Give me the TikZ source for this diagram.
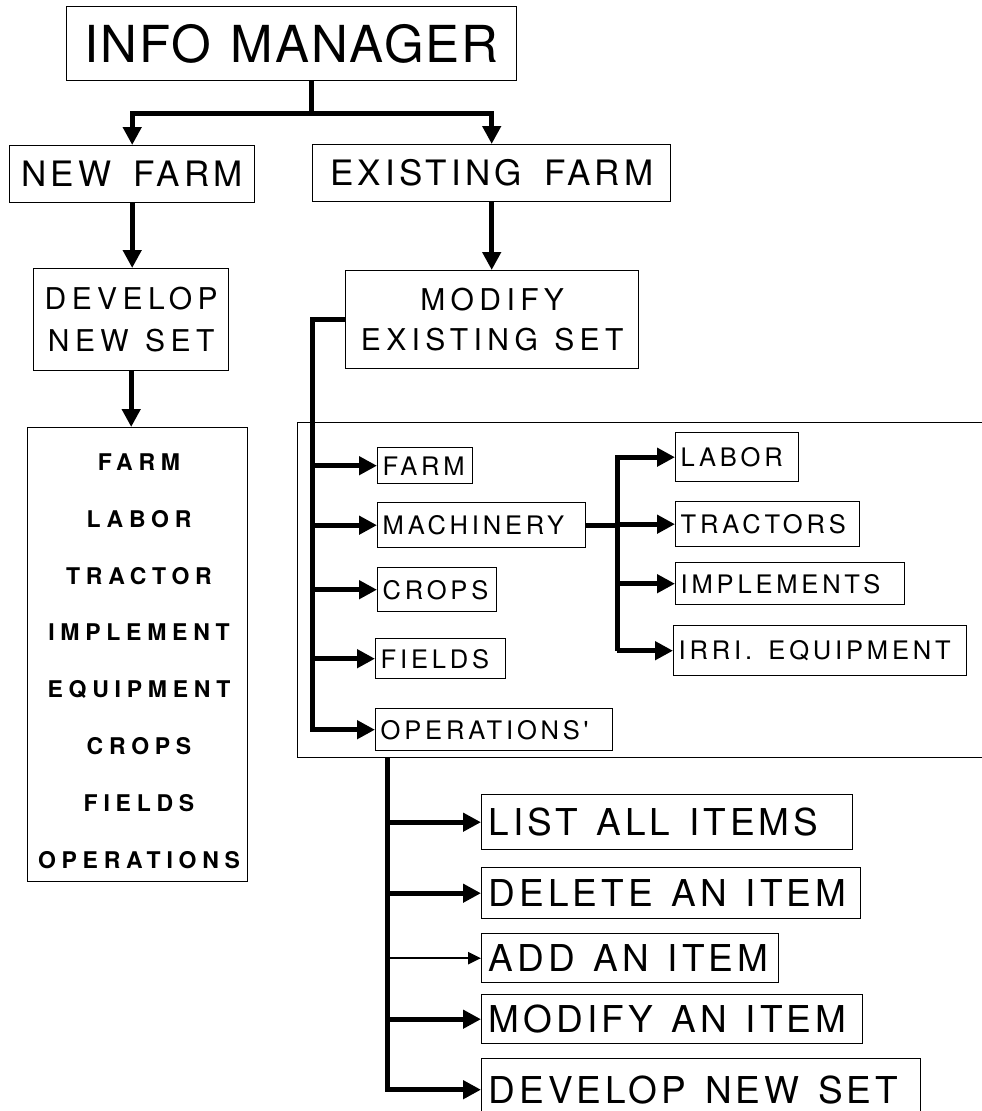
\documentclass[tikz,border=0pt]{standalone}
\usepackage{fontspec}
\setmainfont{TeX Gyre Heros}
\newfontfamily\infofont[LetterSpace=4,WordSpace=1.2]{TeX Gyre Heros}
\newfontfamily\farmfont[LetterSpace=12,WordSpace=1.6]{TeX Gyre Heros}
\newfontfamily\setsfont[LetterSpace=18,WordSpace=1.2]{TeX Gyre Heros}
\newfontfamily\menufont[LetterSpace=15,WordSpace=1.5]{TeX Gyre Heros}
\newfontfamily\itemfont[LetterSpace=25]{TeX Gyre Heros}
\newfontfamily\optfont[LetterSpace=11,WordSpace=1.3]{TeX Gyre Heros}
\usetikzlibrary{arrows.meta}

\begin{document}
\begin{tikzpicture}[x=1pt, y=-1pt,
  box/.style={draw, line width=1.4pt, anchor=north west, inner ysep=0pt},
  conn/.style={line width=5pt, -{Triangle[length=18pt,width=18pt]}},
  thinconn/.style={line width=2.5pt, -{Triangle[length=13pt,width=12pt]}},
  bar/.style={line width=5pt}]
  \useasboundingbox (0,0) rectangle (982,1111);
  % top levels
  \node[box, minimum width=450pt, minimum height=74pt, font=\infofont\fontsize{51}{60}\selectfont] (info) at (66,6) {INFO MANAGER};
  \node[box, minimum width=245pt, minimum height=57pt, font=\farmfont\fontsize{35}{42}\selectfont] (newfarm) at (9,145) {NEW FARM};
  \node[box, minimum width=358pt, minimum height=57pt, font=\farmfont\fontsize{35}{42}\selectfont] (exfarm) at (312,144) {EXISTING FARM};
  \node[box, minimum width=195pt, minimum height=102pt, align=center, font=\setsfont\fontsize{30}{42}\selectfont] (develop) at (33,268) {DEVELOP\\NEW SET};
  \node[box, minimum width=293pt, minimum height=98pt, align=center, font=\setsfont\fontsize{30}{40}\selectfont] (modify) at (345,270) {MODIFY\\EXISTING SET};
  \coordinate (fork) at (311,113);
  \draw[bar] (fork |- info.south) -- (fork);
  \draw[conn] (fork) -| (newfarm.north);
  \draw[conn] (fork) -| (exfarm.north);
  \draw[conn] (newfarm.south) -- (newfarm.south |- develop.north);
  \draw[conn] (exfarm.south) -- (exfarm.south |- modify.north);

  % new set list
  \node[box, minimum width=220pt, minimum height=454pt] (setlist) at (27,427) {};
  \draw[conn] (develop.south) -- (develop.south |- setlist.north);
  \foreach \t [count=\i] in {FARM,LABOR,TRACTOR,IMPLEMENT,EQUIPMENT,CROPS,FIELDS,OPERATIONS}
    \node[font=\itemfont\bfseries\fontsize{23}{28}\selectfont, text height=16.5pt, text depth=0pt, inner sep=0pt] (item\i) at (139,{405.1+56.9*\i}) {\t};

  % edit menu
  \node[box, minimum width=700pt, minimum height=335pt] (menu) at (297,422) {};
  \foreach \n/\t/\x/\y/\w/\h in {farm/FARM/377/447/95/36, mach/MACHINERY/377/502/208/45,
    crops/CROPS/377/567/119/44, fields/FIELDS/375/638/130/40, ops/OPERATIONS'/375/708/237/42,
    labor/LABOR/675/432/123/49, tract/TRACTORS/675/501/184/45, impl/IMPLEMENTS/675/562/229/42,
    irri/IRRI. EQUIPMENT/673/625/293/50}{
    \pgfmathsetmacro\tw{\w-10}
    \node[box, inner xsep=5pt, minimum width=\w pt, minimum height=\h pt,
      font=\menufont\fontsize{25.5}{30}\selectfont] (\n) at (\x,\y) {\makebox[\tw pt][l]{\t}};
  }
  \coordinate (mtrunk) at (312,0);
  \draw[conn] (modify.west) -| (mtrunk |- ops.west) -- (ops.west);
  \foreach \n in {farm,mach,crops,fields}
    \draw[conn] (mtrunk |- \n.west) -- (\n.west);
  \coordinate (mbranch) at (617,0);
  \draw[bar] (mach.east) -- (mbranch |- mach.east);
  \draw[conn] (mbranch |- irri.west) |- (labor.west);
  \foreach \n in {tract,impl,irri}
    \draw[conn] (mbranch |- \n.west) -- (\n.west);

  % actions
  \foreach \n/\t/\y/\w/\h in {list/LIST ALL ITEMS/794/371/55, del/DELETE AN ITEM/867/379/51,
    add/ADD AN ITEM/933/297/49, modi/MODIFY AN ITEM/994/381/49, devset/DEVELOP NEW SET/1058/439/62}{
    \pgfmathsetmacro\tw{\w-14}
    \node[box, inner xsep=7pt, minimum width=\w pt, minimum height=\h pt,
      font=\optfont\fontsize{37}{44}\selectfont] (\n) at (481,\y) {\makebox[\tw pt][l]{\t}};
  }
  \coordinate (otrunk) at (387,0);
  \draw[conn] (otrunk |- menu.south) |- (devset.west);
  \foreach \n in {list,del,modi}
    \draw[conn] (otrunk |- \n.west) -- (\n.west);
  \draw[thinconn] (otrunk |- add.west) -- (add.west);
\end{tikzpicture}
\end{document}
